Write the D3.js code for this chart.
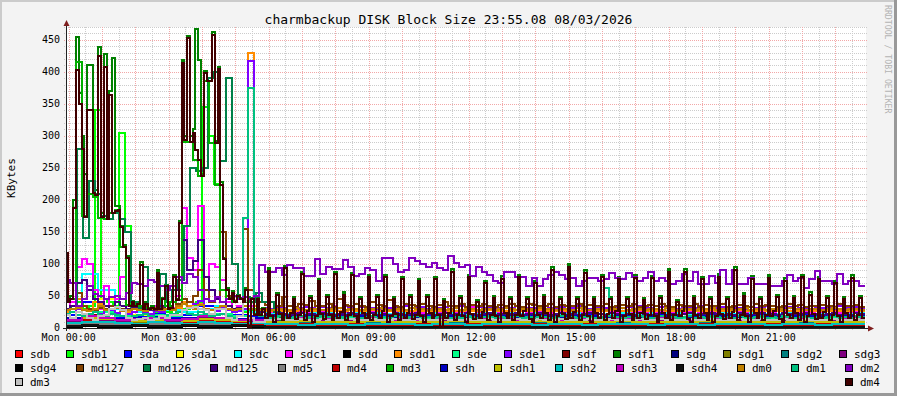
<!DOCTYPE html>
<html><head><meta charset="utf-8">
<script src="https://cdn.jsdelivr.net/npm/d3@7"></script>
<style>body{margin:0;background:#f3f3f3}svg{display:block}</style>
</head><body><svg id="c" width="897" height="396"></svg>
<script>
const title = "charmbackup DISK Block Size 23:55.08 08/03/2026";
const yLabel = "KBytes";
const watermark = "RRDTOOL / TOBI OETIKER";
const yTicks = [0,50,100,150,200,250,300,350,400,450];
const xTickHours = [0,3,6,9,12,15,18,21];
const xTickLabels = ["Mon 00:00","Mon 03:00","Mon 06:00","Mon 09:00","Mon 12:00","Mon 15:00","Mon 18:00","Mon 21:00"];
const seriesNames = ["sdb","sdb1","sda","sda1","sdc","sdc1","sdd","sdd1","sde","sde1","sdf","sdf1","sdg","sdg1","sdg2","sdg3",
  "sdg4","md127","md126","md125","md5","md4","md3","sdh","sdh1","sdh2","sdh3","sdh4","dm0","dm1","dm2","dm3","dm4"];
const seriesColors = ["#FF0000","#00FF00","#0000FF","#FFFF00","#00FFFF","#FF00FF","#000000","#FF8C00","#00FF88","#8000FF","#800000","#008000","#000080","#808000","#008080","#800080",
  "#000000","#804000","#008048","#400080","#808080","#C00000","#00B000","#0000C0","#C0C000","#00C0C0","#C000C0","#101010","#C08000","#00C080","#8000C0","#C0C0C0","#400000"];

// 30-minute samples (48)
const sdb = [8,10,12,6,5,4,6,8,10,6,5,4, 3,2,3,4,2,3,2,3,4,3,2,3, 2,4,3,2,3,2,3,4,2,3,3,2, 4,3,2,3,2,3,4,2,3,3,2,3];
const sda = [20,40,25,15,18,22,15,20,35,30,20,18, 21,20,19,22,20,21,19,20,22,21,19,20, 21,20,22,19,21,20,19,21,22,20,19,21, 20,22,21,19,20,21,20,19,22,21,20,19];
const sda1 = [10,15,45,30,20,15,12,10,12,15,10,8, 5,4,6,5,4,5,6,4,5,5,4,6, 5,4,5,6,5,4,5,6,4,5,5,4, 6,5,4,5,5,6,4,5,4,6,5,5];
const sdc = [25,85,60,30,25,30,28,25,30,35,28,25, 23,22,24,23,22,23,24,22,23,22,24,23, 22,23,24,22,23,22,24,23,22,23,22,24, 23,22,23,24,22,23,22,24,23,22,23,24];
const sdd = [5,8,6,4,5,6,4,5,6,5,4,5, 1,2,1,1,2,1,2,1,1,2,1,1, 2,1,2,1,1,2,1,1,2,1,1,2, 1,2,1,1,2,1,1,2,1,2,1,1];
const sde = [15,20,25,18,15,20,18,15,20,22,18,15, 15,14,16,15,14,15,16,14,15,14,16,15, 14,15,16,14,15,14,16,15,14,15,14,16, 15,14,15,16,14,15,14,16,15,14,15,16];
const sdf = [10,20,15,10,8,10,12,15,10,8,10,8, 6,5,6,5,6,6,5,6,5,6,5,6, 6,5,6,5,6,5,6,6,5,6,5,6, 5,6,6,5,6,5,6,5,6,6,5,6];
const sdg = [6,8,7,5,6,7,5,6,8,6,5,6, 3,3,4,3,3,4,3,3,3,4,3,3, 4,3,3,3,4,3,3,4,3,3,3,4, 3,3,4,3,3,3,4,3,3,4,3,3];
const sdg1 = [8,10,9,7,8,9,7,8,10,8,7,8, 7,7,8,7,6,7,8,7,7,6,7,8, 7,7,6,7,8,7,7,6,7,8,7,7, 6,7,8,7,7,6,7,7,8,7,6,7];
const sdg2 = [12,14,15,12,11,13,12,11,14,12,11,12, 8,9,8,8,9,8,9,8,8,9,8,8, 9,8,8,9,8,9,8,8,9,8,8,9, 8,9,8,8,9,8,8,9,8,9,8,8];
const sdg3 = [10,15,12,10,12,15,10,12,15,12,10,10, 12,11,12,13,12,11,12,12,13,11,12,12, 11,12,13,12,11,12,12,13,12,11,12,12, 13,12,11,12,12,13,11,12,12,11,13,12];
const sdg4 = [2,3,2,2,3,2,2,3,2,2,3,2, 1,1,1,1,1,1,1,1,1,1,1,1, 1,1,1,1,1,1,1,1,1,1,1,1, 1,1,1,1,1,1,1,1,1,1,1,1];
const md5 = [6,8,7,6,5,7,6,5,7,6,5,6, 4,4,5,4,4,5,4,4,4,5,4,4, 5,4,4,4,5,4,4,5,4,4,4,5, 4,4,5,4,4,4,5,4,4,5,4,4];
const md4 = [8,12,10,8,7,9,8,10,12,9,8,7, 5,5,6,5,5,6,5,5,5,6,5,5, 6,5,5,5,6,5,5,6,5,5,5,6, 5,5,6,5,5,5,6,5,5,6,5,5];
const sdh = [15,18,16,14,15,17,14,15,18,16,14,15, 18,17,19,18,17,18,19,17,18,17,19,18, 17,18,19,17,18,17,19,18,17,18,17,19, 18,17,18,19,17,18,17,19,18,17,18,19];
const sdh1 = [12,15,14,12,11,13,12,11,14,12,11,12, 10,10,11,10,9,10,11,10,10,9,10,11, 10,10,9,10,11,10,10,9,10,11,10,10, 9,10,11,10,10,9,10,10,11,10,9,10];
const sdh2 = [8,10,9,8,7,9,8,7,10,8,7,8, 6,6,5,6,6,5,6,6,6,5,6,6, 5,6,6,6,5,6,6,5,6,6,6,5, 6,6,5,6,6,6,5,6,6,5,6,6];
const sdh3 = [12,18,15,12,14,16,12,14,18,15,12,12, 14,13,15,14,13,14,15,13,14,13,15,14, 13,14,15,13,14,13,15,14,13,14,13,15, 14,13,14,15,13,14,13,15,14,13,14,15];
const sdh4 = [3,4,3,3,4,3,3,4,3,3,4,3, 2,2,2,2,2,2,2,2,2,2,2,2, 2,2,2,2,2,2,2,2,2,2,2,2, 2,2,2,2,2,2,2,2,2,2,2,2];

// 10-minute samples (144)
const sdb1 = [30,35,40,30,35,340,45,40,35,305,160,30,25,28,30,25,28,25,22,28,30,35,40,345,300,225,40,35,30,28,25,28,30,25,22,20,
  3,4,3,3,4,3,3,3,4,3, 3,4,3,3,3,4,3,3,4,3, 3,3,4,3,3,4,3,3,3,4, 3,3,4,3,3,3,4,3,3,4, 3,3,3,4,3,3,4,3,3,3, 4,3,3,4,3,3,3,4,3,3,
  4,3,3,3,4,3,3,4,3,3, 3,4,3,3,4,3,3,3,4,3, 3,4,3,3,4,3,3,3,4,3, 3,4,3,3,4,3,3,3];
const sdc1 = [25,40,95,107,100,60,30,65,30,45,80,35,30,28,32,30,35,28,30,32,50,187,110,90,190,60,100,95,75,40,30,35,30,35,28,26,
  26,25,27,30,26,24,27,25,28,26, 25,27,35,26,25,24,27,26,28,25, 26,24,27,25,30,26,25,27,24,26, 28,25,26,27,24,25,26,33,25,27,
  24,26,25,27,26,24,28,25,26,27, 25,24,26,27,25,30,26,24,27,25, 26,28,25,24,27,26,25,27,24,26, 25,27,26,24,28,25,26,27,25,24,
  26,25,27,26,32,25,24,26,27,25, 26,24,27,25,26,28,25,27,24,26, 25,26,27,24,26,25,27,26];
const sdd1 = [25,30,45,35,30,40,38,28,30,32,28,25,30,28,26,30,32,28,30,28,32,40,35,30,38,30,28,30,32,30,28,30,35,429,35,28,
  27,26,28,27,26,27,28,26,27,26, 28,27,26,27,26,28,27,26,27,28, 26,27,26,28,27,26,27,28,26,27, 26,27,28,26,27,26,28,27,26,27,
  28,26,27,26,27,28,26,27,26,28, 27,26,27,28,26,27,26,27,28,26, 27,26,28,27,26,27,26,28,27,26, 27,28,26,27,26,27,28,26,27,26,
  28,27,26,27,26,28,27,26,27,28, 26,27,26,28,27,26,27,28,26,27, 26,27,28,26,27,26,28,27];
const sde1 = [20,25,30,35,28,25,22,30,28,24,26,22,25,28,24,22,26,25,30,28,35,45,40,38,42,30,28,26,32,28,25,27,30,417,40,30,
  32,30,33,31,34,30,32,33,31,30, 33,32,30,31,34,32,30,33,31,32, 30,33,32,31,30,34,32,31,33,30, 32,31,33,30,32,34,31,30,33,32,
  31,30,32,33,31,34,30,32,31,33, 30,32,31,33,30,32,34,31,30,32, 33,31,30,32,31,33,30,34,32,31, 30,33,32,31,30,32,33,31,34,30,
  32,31,33,30,32,31,30,33,32,31, 34,30,32,31,33,30,32,31,30,33, 32,31,30,34,32,31,33,30];
const md127 = [40,45,55,35,30,28,32,30,35,40,30,28,30,32,35,30,28,32,35,30,38,45,40,50,90,60,40,45,150,50,40,45,155,60,45,40,
  36,40,34,48,35,33,38,36,42,34, 35,37,33,45,36,34,38,35,33,40, 36,34,44,35,33,37,36,34,38,35, 33,36,40,34,35,37,33,36,34,38,
  35,33,36,34,37,35,33,38,36,34, 35,37,33,36,34,35,38,33,36,35, 34,37,33,35,36,34,38,33,35,36, 34,37,35,33,36,34,35,38,33,36,
  35,34,37,33,35,36,34,33,37,35, 36,34,33,35,37,34,36,33,35,34, 36,35,33,37,34,35,36,33];
const md126 = [30,35,280,141,230,210,175,170,180,170,150,40,32,95,30,30,85,40,60,75,160,250,245,250,390,400,260,390,100,45,48,40,55,40,40,25,
  3,4,3,3,4,3,3,3,4,3, 3,4,3,3,3,4,3,3,4,3, 3,3,4,3,3,4,3,3,3,4, 3,3,4,3,3,3,4,3,3,4, 3,3,3,4,3,3,4,3,3,3, 4,3,3,4,3,3,3,4,3,3,
  4,3,3,3,4,3,3,4,3,3, 3,4,3,3,4,3,3,3,4,3, 3,4,3,3,4,3,3,3,4,3, 3,4,3,3,4,3,3,3];
const md125 = [30,35,70,75,60,45,40,35,30,40,35,30,32,35,30,28,32,35,30,40,60,138,90,105,138,80,60,45,40,35,30,32,35,30,28,25,
  22,21,23,22,20,22,23,21,22,20, 23,22,21,22,20,23,22,21,22,23, 21,22,20,23,22,21,22,23,21,22, 20,22,23,21,22,20,23,22,21,22,
  23,21,22,20,22,23,21,22,20,23, 22,21,22,23,21,22,20,22,23,21, 22,20,23,22,21,22,20,23,22,21, 22,23,21,22,20,22,23,21,22,20,
  23,22,21,22,20,23,22,21,22,23, 21,22,20,23,22,21,22,23,21,22, 20,22,23,21,22,20,23,22];
const md3 = [40,45,415,175,210,205,172,170,180,185,127,36,38,35,32,32,30,45,35,40,44,290,290,263,237,385,289,224,60,45,40,45,40,45,20,30,
  2,2,2,2,2,2,2,2,2,2, 2,2,2,2,2,2,2,2,2,2, 2,2,2,2,2,2,2,2,2,2, 2,2,2,2,2,2,2,2,2,2, 2,2,2,2,2,2,2,2,2,2, 2,2,2,2,2,2,2,2,2,2,
  2,2,2,2,2,2,2,2,2,2, 2,2,2,2,2,2,2,2,2,2, 2,2,2,2,2,2,2,2,2,2, 2,2,2,2,2,2,2,2,2,2, 2,2,2,2,2,2,2,2];
const dm0 = [28,30,32,28,26,30,34,28,30,32,26,28,30,28,26,30,32,28,30,28,34,38,32,30,36,30,28,32,34,30,28,30,35,30,28,28,
  29,28,30,29,28,31,29,28,30,29, 28,30,29,31,28,29,30,28,29,30, 31,29,28,30,29,28,31,29,30,28, 29,30,28,29,31,28,30,29,28,30,
  29,28,30,31,29,28,30,29,28,31, 29,30,28,29,30,28,31,29,28,30, 29,28,30,29,31,28,29,30,28,29, 30,28,31,29,28,30,29,28,30,29,
  31,28,29,30,28,29,31,28,30,29, 28,30,29,28,31,29,30,28,29,30, 28,29,31,30,28,29,30,28];
const dm1 = [22,25,20,18,22,25,20,18,22,20,18,15,18,20,22,18,16,18,20,22,25,28,22,20,25,22,18,20,22,18,16,18,172,375,20,18,
  17,16,18,17,16,17,18,16,17,16, 18,17,16,17,16,18,17,16,17,18, 16,17,16,18,17,16,17,18,16,17, 16,17,18,16,17,16,18,17,16,17,
  18,16,17,16,17,18,16,17,16,18, 17,16,17,18,16,17,16,17,18,16, 17,63,18,17,16,17,16,18,17,16, 17,18,16,17,16,17,18,16,17,16,
  18,17,16,17,16,18,17,16,17,18, 16,17,16,18,17,16,17,18,16,17, 16,17,18,16,17,16,18,17];
const dm2 = [75,70,35,45,65,53,50,45,48,50,45,55,70,68,65,75,72,65,60,65,80,70,85,80,60,45,42,48,40,45,50,45,48,45,50,
  98,87,87,94,83,98,94,94,81,81, 108,84,96,92,92,106,95,81,84,94, 90,73,110,110,100,88,90,110,105,100, 96,101,94,91,112,101,96,99,81,96,
  88,83,73,70,87,87,80,80,65,78, 65,76,83,87,83,76,78,65,73,78, 78,73,76,86,78,76,86,79,73,78, 87,73,78,73,68,73,84,73,88,68,
  68,81,70,91,68,91,68,68,78,68, 68,68,65,65,73,83,73,78,62,76, 89,73,73,68,84,68,73,73,65];
const dm3 = [20,15,25,22,15,12,18,20,30,33,28,15,12,14,16,12,14,18,15,20,20,28,32,33,30,28,22,30,30,15,12,18,42,15,10,10,
  13,12,14,13,12,13,14,12,13,12, 14,13,12,13,12,14,13,12,13,14, 12,13,12,14,13,12,13,14,12,13, 12,13,14,12,13,12,14,13,12,13,
  14,12,13,12,13,14,12,13,12,14, 13,12,13,14,12,13,12,13,14,12, 13,12,14,13,12,13,12,14,13,12, 13,14,12,13,12,13,14,12,13,12,
  14,13,12,13,12,14,13,12,13,14, 12,13,12,14,13,12,13,14,12,13, 12,13,14,12,13,12,14,13];

// 5-minute samples (288)
const sdf1 = [40,45,50,200,454,367,300,240,410,410, 230,215,438,180,428,175,370,422,190,190,
  160,130,112,36,42,37,40,103,32,40, 32,34,32,90,32,47,67,32,34,83,
  46,167,418,300,456,300,310,467,418,240, 402,390,390,462,292,408,228,110,62,47,
  57,42,52,47,42,62,4,47,22,47, 22,32,17,
  93,18,10,54,22,12, 97,15,24,48,14,20, 88,12,26,50,10,18, 77,22,14,51,20,12, 88,16,25,56,12,20, 86,18,10,48,24,15,
  82,12,20,51,16,26, 83,10,18,49,22,12, 80,16,24,51,14,20, 76,18,10,51,24,15, 80,20,0,45,16,24, 92,12,20,50,18,10,
  83,22,14,44,16,25, 74,12,20,50,18,10, 81,24,15,49,12,20, 83,18,26,48,14,10, 74,20,16,52,24,12, 95,10,18,49,22,14,
  100,16,25,49,12,20, 90,18,10,48,24,15, 83,12,22,49,16,26, 79,10,18,48,22,12, 82,16,24,47,14,20, 81,18,10,50,24,15,
  92,12,20,44,18,26, 92,14,10,50,20,16, 80,24,12,49,10,18, 84,22,14,49,16,25, 95,12,20,54,18,10, 81,24,15,49,12,20,
  82,18,26,51,14,10, 78,20,16,50,24,12, 83,10,18,56,22,14, 80,16,25,50,12,20, 74,18,10,48,24,15, 82,12,20,50,16];
const dm4 = [117,40,45,188,403,350,280,174,340,340, 211,208,424,174,408,170,364,180,182,185,
  157,127,110,34,40,35,38,99,30,38, 30,32,30,86,30,45,65,30,32,80,
  44,164,414,294,453,290,305,278,263,237, 398,385,385,458,289,405,224,107,60,45,
  55,40,50,45,40,60,2,45,20,45, 20,30,15,
  89,18,10,51,22,12, 94,15,24,45,14,20, 85,12,26,47,10,18, 73,22,14,48,20,12, 85,16,25,52,12,20, 83,18,10,45,24,15,
  79,12,20,48,16,26, 80,10,18,46,22,12, 77,16,24,48,14,20, 73,18,10,48,24,15, 77,20,0,42,16,24, 88,12,20,47,18,10,
  80,22,14,41,16,25, 70,12,20,47,18,10, 77,24,15,46,12,20, 79,18,26,45,14,10, 71,20,16,49,24,12, 91,10,18,46,22,14,
  96,16,25,46,12,20, 86,18,10,45,24,15, 80,12,22,46,16,26, 76,10,18,45,22,12, 78,16,24,44,14,20, 78,18,10,47,24,15,
  88,12,20,41,18,26, 88,14,10,47,20,16, 77,24,12,46,10,18, 80,22,14,46,16,25, 91,12,20,50,18,10, 77,24,15,46,12,20,
  78,18,26,48,14,10, 74,20,16,47,24,12, 79,10,18,52,22,14, 76,16,25,47,12,20, 70,18,10,45,24,15, 78,12,20,47,16];

const seriesData = [sdb,sdb1,sda,sda1,sdc,sdc1,sdd,sdd1,sde,sde1,sdf,sdf1,sdg,sdg1,sdg2,sdg3,
  sdg4,md127,md126,md125,md5,md4,md3,sdh,sdh1,sdh2,sdh3,sdh4,dm0,dm1,dm2,dm3,dm4];

const W = 897, H = 396, PL = 66, PR = 866, PT = 27, PB = 328;
const OFF = -2;            // sample alignment (minutes)
const HOUR0 = 4.87;        // Mon 00:00, minutes after the graph start
const FONT = "'DejaVu Sans Mono', monospace";

const svg = d3.select('#c');
const x = d3.scaleLinear().domain([0, 1440]).range([PL, PR]);
const y = d3.scaleLinear().domain([0, 470]).range([PB, PT]);

svg.append('rect').attr('width', W).attr('height', H).attr('fill', '#f3f3f3');
svg.append('rect').attr('x', 0).attr('y', 0).attr('width', W).attr('height', 2).attr('fill', '#cbcbcb');
svg.append('rect').attr('x', 0).attr('y', 0).attr('width', 2).attr('height', H).attr('fill', '#cbcbcb');
svg.append('rect').attr('x', 0).attr('y', H - 3).attr('width', W).attr('height', 3).attr('fill', '#999');
svg.append('rect').attr('x', W - 3).attr('y', 0).attr('width', 3).attr('height', H).attr('fill', '#999');

svg.append('rect').attr('x', PL).attr('y', PT).attr('width', PR - PL).attr('height', PB - PT).attr('fill', '#fff');

// grid
const grid = svg.append('g').attr('shape-rendering', 'crispEdges');
d3.range(10, 471, 10).forEach(v => {
  const major = v % 50 === 0;
  const yy = Math.round(y(v)) + 0.5;
  grid.append('line').attr('x1', PL - 2).attr('x2', PR + 2).attr('y1', yy).attr('y2', yy)
    .attr('stroke', major ? '#f2a8a8' : '#cccccc').attr('stroke-dasharray', '1,1');
});
d3.range(0, 48).forEach(k => {
  const m = HOUR0 + 30 * k;
  const xx = Math.round(x(m)) + 0.5;
  grid.append('line').attr('x1', xx).attr('x2', xx).attr('y1', PT).attr('y2', PB + 2)
    .attr('stroke', k % 2 === 0 ? '#f2a8a8' : '#cccccc').attr('stroke-dasharray', '1,1');
});

// data
svg.append('clipPath').attr('id', 'pc').append('rect')
  .attr('x', PL).attr('y', PT - 3).attr('width', PR - PL).attr('height', PB - PT + 5);
const line = d3.line().x(d => Math.round(x(d[0]))).y(d => Math.round(y(d[1]))).curve(d3.curveStepAfter);
function pts(arr) {
  const n = arr.length, st = 1440 / n;
  const p = arr.map((v, k) => [k * st + OFF, v]);
  p.push([n * st + OFF, arr[n - 1]]);
  return p;
}
const dg = svg.append('g').attr('clip-path', 'url(#pc)');
seriesData.forEach((arr, i) => {
  dg.append('path').attr('d', line(pts(arr))).attr('fill', 'none')
    .attr('stroke', seriesColors[i]).attr('stroke-width', 2)
    .attr('shape-rendering', 'crispEdges').attr('stroke-linejoin', 'miter');
});

// axes
svg.append('line').attr('x1', PL - 3).attr('x2', PR + 3).attr('y1', PB + 0.5).attr('y2', PB + 0.5)
  .attr('stroke', '#222').attr('shape-rendering', 'crispEdges');
svg.append('line').attr('x1', PL + 0.5).attr('x2', PL + 0.5).attr('y1', PB + 3).attr('y2', PT - 3)
  .attr('stroke', '#222').attr('shape-rendering', 'crispEdges');
svg.append('path').attr('d', `M${PL - 2.5},${PT - 1}L${PL + 3.5},${PT - 1}L${PL + 0.5},${PT - 7}Z`).attr('fill', '#7F1F1F');
svg.append('path').attr('d', `M${PR + 2},${PB - 2.5}L${PR + 2},${PB + 3.5}L${PR + 8},${PB + 0.5}Z`).attr('fill', '#7F1F1F');

// tick labels
svg.append('g').selectAll('text').data(yTicks).join('text')
  .attr('x', 60).attr('y', d => y(d) + 3.4).attr('text-anchor', 'end')
  .attr('font-family', FONT).attr('font-size', 10).attr('fill', '#000').text(d => d);
svg.append('g').selectAll('text').data(xTickHours).join('text')
  .attr('x', d => x(HOUR0 + 60 * d)).attr('y', 341).attr('text-anchor', 'middle')
  .attr('font-family', FONT).attr('font-size', 10).attr('fill', '#000')
  .text((d, i) => xTickLabels[i]);

// title, y label, watermark
svg.append('text').attr('x', 448.5).attr('y', 24).attr('text-anchor', 'middle')
  .attr('font-family', FONT).attr('font-size', 13).attr('fill', '#000').text(title);
svg.append('text').attr('transform', 'translate(14.5,178) rotate(-90)').attr('text-anchor', 'middle')
  .attr('font-family', FONT).attr('font-size', 11).attr('fill', '#000').text(yLabel);
svg.append('text').attr('transform', 'translate(884.5,5) rotate(90)').attr('text-anchor', 'start')
  .attr('font-family', FONT).attr('font-size', 8.2).attr('fill', '#b4b4b4').text(watermark);

// legend (justified rows)
const rows = [seriesNames.slice(0, 16), seriesNames.slice(16, 31), seriesNames.slice(31)];
const rowTop = [350, 364, 378];
const LX0 = 15, LX1 = 880;
let idx = 0;
rows.forEach((row, r) => {
  const items = row.map(name => {
    const ci = idx++;
    const g = svg.append('g');
    g.append('rect').attr('x', 0.5).attr('y', 0.5).attr('width', 7).attr('height', 7)
      .attr('fill', seriesColors[ci]).attr('stroke', '#000').attr('shape-rendering', 'crispEdges');
    const t = g.append('text').attr('x', 15).attr('y', 8).attr('font-family', FONT)
      .attr('font-size', 11).attr('fill', '#000').text(name);
    return { g, w: 15 + t.node().getComputedTextLength() };
  });
  const total = d3.sum(items, d => d.w);
  const gap = items.length > 1 ? (LX1 - LX0 - total) / (items.length - 1) : 0;
  let cx = LX0;
  items.forEach(it => { it.g.attr('transform', `translate(${Math.round(cx)},${rowTop[r]})`); cx += it.w + gap; });
});
</script>
</body></html>
